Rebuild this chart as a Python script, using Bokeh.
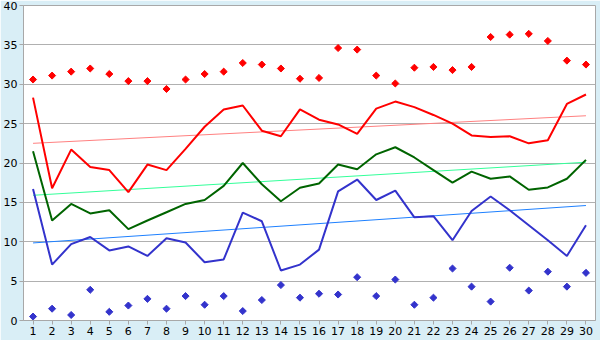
import math
from bokeh.plotting import figure
from bokeh.embed import file_html
from bokeh.resources import INLINE
from bokeh.models import FixedTicker, Range1d

days = list(range(1, 31))
red_line = [28.3, 16.8, 21.7, 19.5, 19.1, 16.3, 19.8, 19.1, 21.8, 24.6,
            26.8, 27.3, 24.1, 23.4, 26.8, 25.5, 24.9, 23.7, 26.9, 27.8,
            27.1, 26.1, 25.0, 23.5, 23.3, 23.4, 22.5, 22.9, 27.5, 28.7]
red_pts = [30.6, 31.1, 31.6, 32.0, 31.3, 30.4, 30.4, 29.4, 30.6, 31.3,
           31.6, 32.7, 32.5, 32.0, 30.7, 30.8, 34.6, 34.4, 31.1, 30.1,
           32.1, 32.2, 31.8, 32.2, 36.0, 36.3, 36.4, 35.5, 33.0, 32.5]
green_line = [21.5, 12.7, 14.8, 13.6, 14.0, 11.6, 12.7, 13.75, 14.8, 15.3,
              17.1, 20.0, 17.3, 15.15, 16.85, 17.4, 19.8, 19.2, 21.1, 22.0,
              20.7, 19.1, 17.5, 18.9, 18.0, 18.3, 16.6, 16.9, 18.0, 20.4]
blue_line = [16.7, 7.1, 9.7, 10.6, 8.9, 9.4, 8.2, 10.45, 9.9, 7.4,
             7.75, 13.7, 12.6, 6.35, 7.1, 9.0, 16.4, 17.9, 15.3, 16.5,
             13.1, 13.25, 10.2, 13.9, 15.75, 14.0, 12.1, 10.2, 8.2, 12.1]
blue_pts = [0.5, 1.5, 0.7, 3.9, 1.1, 1.9, 2.75, 1.5, 3.1, 2.0,
            3.1, 1.2, 2.6, 4.5, 2.9, 3.4, 3.3, 5.5, 3.1, 5.2,
            2.0, 2.9, 6.6, 4.3, 2.4, 6.7, 3.8, 6.2, 4.3, 6.05]
trend_x = [1, 30]
red_trend = [22.5, 26.0]
green_trend = [15.9, 20.1]
blue_trend = [9.85, 14.6]
y_ticks = [0, 5, 10, 15, 20, 25, 30, 35, 40]

p = figure(width=600, height=340, output_backend="svg", toolbar_location=None,
           x_range=Range1d(0.5, 30.5), y_range=Range1d(0, 40),
           min_border_left=20, min_border_right=5, min_border_top=5, min_border_bottom=20)
p.background_fill_color = "white"
p.border_fill_color = "#D9EEF6"
p.outline_line_color = "#A8A8A8"

p.line(trend_x, red_trend, color="#FF8080", line_width=1)
p.line(trend_x, green_trend, color="#33FF99", line_width=1)
p.line(trend_x, blue_trend, color="#1E80FF", line_width=1)

p.line(days, red_line, color="#FF0000", line_width=2)
p.line(days, green_line, color="#006400", line_width=2)
p.line(days, blue_line, color="#3333CC", line_width=2)
p.scatter(days, red_pts, marker="square", angle=math.pi / 4, size=5, color="#FF0000")
p.scatter(days, blue_pts, marker="square", angle=math.pi / 4, size=5, color="#3333CC")

p.xgrid.grid_line_color = None
p.ygrid.grid_line_color = "#B0B0B0"
p.ygrid.ticker = FixedTicker(ticks=y_ticks)

p.xaxis.ticker = FixedTicker(ticks=days)
p.yaxis.ticker = FixedTicker(ticks=y_ticks)
for ax in (p.xaxis[0], p.yaxis[0]):
    ax.axis_line_color = "#A8A8A8"
    ax.major_tick_line_color = "#A8A8A8"
    ax.major_tick_in = 0
    ax.major_tick_out = 4
    ax.minor_tick_line_color = None
    ax.major_label_text_font = "DejaVu Sans"
    ax.major_label_text_font_size = "11px"
    ax.major_label_text_color = "black"
    ax.major_label_standoff = 2

open("out.html", "w").write(file_html(p, INLINE))
